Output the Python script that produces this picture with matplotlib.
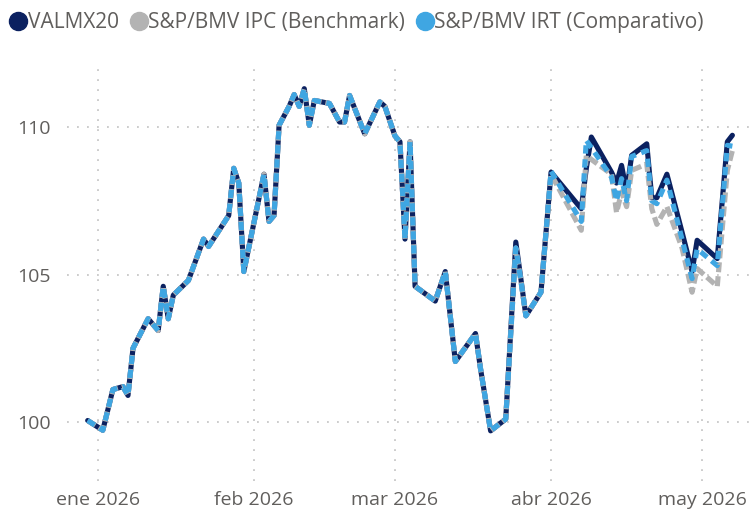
import pandas as pd
import matplotlib
matplotlib.use("Agg")
import matplotlib.pyplot as plt
from matplotlib.lines import Line2D

plt.rcParams['font.family'] = ['Open Sans', 'DejaVu Sans']
plt.rcParams['lines.scale_dashes'] = False

dates = ["2025-12-30",
         "2026-01-02", "2026-01-04", "2026-01-06", "2026-01-07", "2026-01-08", "2026-01-11",
         "2026-01-13", "2026-01-14", "2026-01-15", "2026-01-16", "2026-01-19", "2026-01-22",
         "2026-01-23", "2026-01-27", "2026-01-28", "2026-01-29", "2026-01-30",
         "2026-02-03", "2026-02-04", "2026-02-05", "2026-02-06", "2026-02-08", "2026-02-09",
         "2026-02-10", "2026-02-11", "2026-02-12", "2026-02-13", "2026-02-16", "2026-02-18",
         "2026-02-19", "2026-02-20", "2026-02-23", "2026-02-26", "2026-02-27",
         "2026-03-01", "2026-03-02", "2026-03-03", "2026-03-04", "2026-03-05", "2026-03-09",
         "2026-03-11", "2026-03-13", "2026-03-17", "2026-03-18", "2026-03-20", "2026-03-23",
         "2026-03-25", "2026-03-26", "2026-03-27", "2026-03-30",
         "2026-04-01", "2026-04-07", "2026-04-08", "2026-04-09", "2026-04-13", "2026-04-14",
         "2026-04-15", "2026-04-16", "2026-04-17", "2026-04-20", "2026-04-21", "2026-04-22",
         "2026-04-24", "2026-04-27", "2026-04-29", "2026-04-30",
         "2026-05-04", "2026-05-06", "2026-05-07"]

# Jan-Mar: the three series overlap almost exactly
common = [100.05,
          99.72, 101.1, 101.2, 100.9, 102.5, 103.5,
          103.1, 104.6, 103.5, 104.3, 104.8, 106.2,
          105.95, 107.0, 108.6, 108.1, 105.1,
          108.4, 106.8, 107.0, 110.06, 110.7, 111.1,
          110.7, 111.3, 110.06, 110.9, 110.8, 110.17,
          110.17, 111.07, 109.77, 110.85, 110.7,
          109.7, 109.5, 106.2, 109.5, 104.6, 104.1,
          105.1, 102.05, 103.0, 101.8, 99.7, 100.1]

valmx20 = common + [106.1, 104.86, 103.6, 104.4,
                    108.47, 107.23, 108.6, 109.66, 108.47, 108.1,
                    108.7, 107.8, 109.04, 109.43, 107.6, 107.6,
                    108.4, 106.44, 105.1, 106.16,
                    105.54, 109.5, 109.72]
ipc = common + [105.9, 104.8, 103.6, 104.4,
                108.4, 106.5, 109.04, 108.9, 108.4, 107.1,
                107.8, 107.3, 108.53, 108.75, 107.23, 106.7,
                107.3, 105.9, 104.4, 105.2,
                104.6, 108.53, 109.2]
irt = common + [105.9, 104.8, 103.6, 104.4,
                108.5, 106.8, 109.55, 109.3, 108.3, 107.5,
                108.25, 107.5, 109.0, 109.2, 107.5, 107.4,
                108.2, 106.2, 104.86, 105.87,
                105.3, 109.38, 109.35]

names = ["VALMX20", "S&P/BMV IPC (Benchmark)", "S&P/BMV IRT (Comparativo)"]
colors = ["#0B2160", "#B3B3B3", "#3FA6E2"]
month_ticks = ["2026-01-01", "2026-02-01", "2026-03-01", "2026-04-01", "2026-05-01"]
month_labels = ["ene 2026", "feb 2026", "mar 2026", "abr 2026", "may 2026"]
y_ticks = [100, 105, 110]

x = pd.to_datetime(dates)
fig = plt.figure(figsize=(7.49, 5.13), dpi=100)
ax = fig.add_axes([0.0895, 0.0624, 0.9105, 0.805])

lw = 3.7
ax.plot(x, valmx20, color=colors[0], lw=lw, solid_capstyle="round", solid_joinstyle="round", zorder=3)
ax.plot(x, ipc, color=colors[1], lw=lw, ls=(0.7, (7.2, 2.9)), dash_capstyle="butt", zorder=4)
ax.plot(x, irt, color=colors[2], lw=lw, ls=(0, (6.0, 4.1)), dash_capstyle="butt", zorder=5)

ax.set_xlim(pd.Timestamp("2026-01-01") - pd.Timedelta(days=6.1),
            pd.Timestamp("2026-01-01") + pd.Timedelta(days=129.3))
ax.set_ylim(98, 112)
ax.set_xticks(pd.to_datetime(month_ticks))
ax.set_xticklabels(month_labels)
ax.set_yticks(y_ticks)
ax.set_yticklabels([str(v) for v in y_ticks])

for s in ax.spines.values():
    s.set_visible(False)
ax.tick_params(length=0, labelsize=14, colors="#605E5C")
ax.tick_params(axis="y", pad=12)
ax.tick_params(axis="x", pad=7)
ax.grid(True, color="#C8C8C8", lw=1.3, ls=(0, (1.3, 5.9)))
ax.set_axisbelow(True)

handles = [Line2D([], [], ls="none", marker="o", markersize=13, color=c) for c in colors]
fig.legend(handles, names, loc="upper left", bbox_to_anchor=(-0.006, 1.005), ncol=3, frameon=False,
           fontsize=15, labelcolor="#605E5C", handlelength=0.8, handletextpad=0.05,
           columnspacing=0.55, borderaxespad=0.3)

fig.savefig("out.png", dpi=100)
